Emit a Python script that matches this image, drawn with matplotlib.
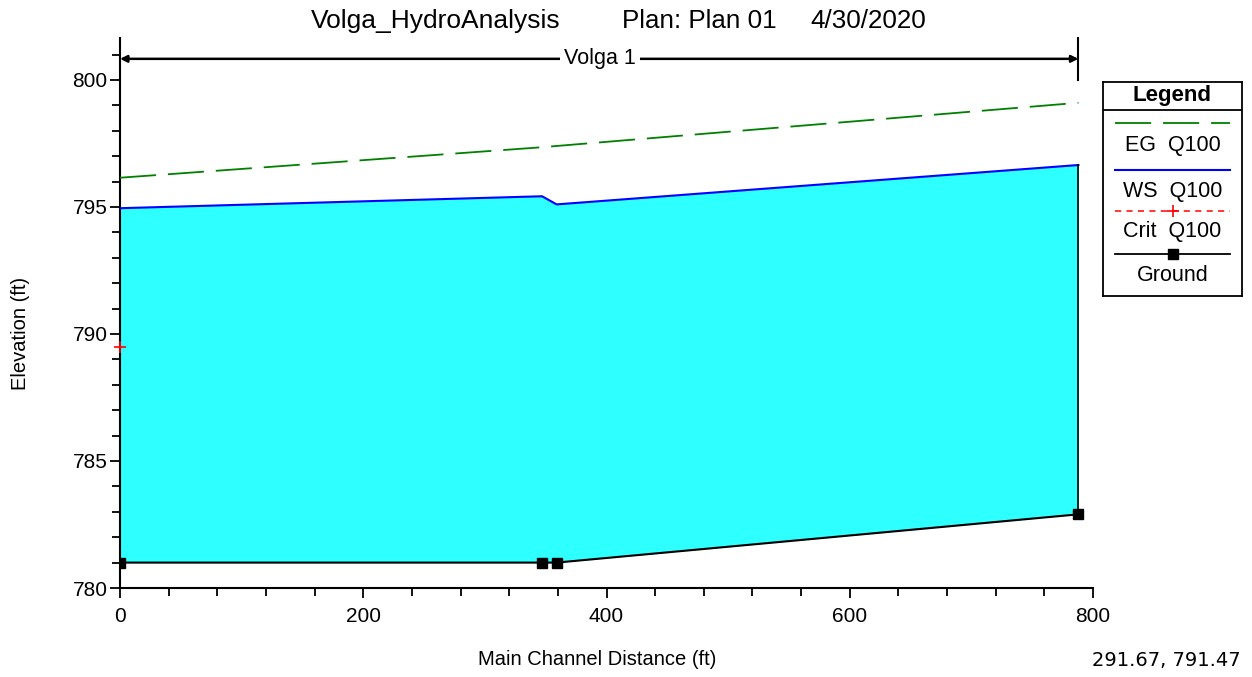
import matplotlib
matplotlib.use("Agg")
import matplotlib.pyplot as plt
from matplotlib.ticker import MultipleLocator

plt.rcParams["font.family"] = ["Liberation Sans", "DejaVu Sans"]

# Profile data (main channel distance in ft, elevation in ft)
station = [0, 347, 359, 788]
ground = [781.0, 781.0, 781.0, 782.9]
ws_q100 = [794.95, 795.42, 795.1, 796.65]
eg_q100 = [796.15, 797.35, 797.4, 799.1]
crit_station = [0]
crit_q100 = [789.5]

reach_name = "Volga 1"
reach_start, reach_end = 0, 788
title_parts = ["Volga_HydroAnalysis", "Plan: Plan 01", "4/30/2020"]
coord_readout = "291.67, 791.47"

W, H = 1252, 677
fig = plt.figure(figsize=(W / 100, H / 100), dpi=100)
ax = fig.add_axes([120 / W, 1 - 588 / H, (1093 - 120) / W, (588 - 38) / H])

ax.fill_between(station, ground, ws_q100, color="#2EFFFF", linewidth=0, zorder=1)
ax.plot(station, eg_q100, color="#008000", linewidth=1.3, dashes=(20, 6.6), zorder=3)
ax.plot(station, ws_q100, color="#0000FF", linewidth=1.5, zorder=3)
ax.plot([station[-1], station[-1]], [ground[-1], ws_q100[-1]], color="black", linewidth=1.2, zorder=3)
ax.plot(station, ground, color="black", linewidth=1.5, marker="s", markersize=7, zorder=4)
ax.plot(crit_station, crit_q100, color="red", linestyle="none", marker="+",
        markersize=8, markeredgewidth=1.2, zorder=5, clip_on=False)

ax.set_xlim(0, 800)
ax.set_ylim(780, 801.65)
ax.spines["top"].set_visible(False)
ax.spines["right"].set_visible(False)
ax.spines["left"].set_linewidth(1.5)
ax.spines["bottom"].set_linewidth(1.5)
ax.xaxis.set_major_locator(MultipleLocator(200))
ax.xaxis.set_minor_locator(MultipleLocator(40))
ax.yaxis.set_minor_locator(MultipleLocator(1))
ax.set_yticks([780, 785, 790, 795, 800])
ax.tick_params(which="major", length=7, width=1.3, labelsize=15)
ax.tick_params(axis="x", which="major", pad=7)
ax.tick_params(axis="y", which="major", pad=2)
ax.tick_params(which="minor", length=5.5, width=1.3)

ax.set_xlabel("Main Channel Distance (ft)", fontsize=14.5)
ax.set_ylabel("Elevation (ft)", fontsize=14.5)
ax.xaxis.set_label_coords(0.49, -0.113)
ax.yaxis.set_label_coords(-0.092, 0.462)

# Reach marker across the top of the plot
reach_y = 800.83
ax.annotate("", xy=(reach_start, reach_y), xytext=(reach_end, reach_y),
            arrowprops=dict(arrowstyle="<|-|>", color="black", lw=1.8,
                            mutation_scale=10, shrinkA=0, shrinkB=0))
ax.plot([reach_end, reach_end], [800.0, 801.65], color="black", linewidth=1.5, clip_on=False)
ax.text((reach_start + reach_end) / 2 + 0.5, reach_y, reach_name, fontsize=15.5,
        ha="center", va="center", bbox=dict(facecolor="white", edgecolor="none", pad=3))

# Title pieces
title_y = 1 - 21 / H
fig.text(311 / W, title_y, title_parts[0], fontsize=19, va="center", ha="left")
fig.text(622 / W, title_y, title_parts[1], fontsize=18.7, va="center", ha="left")
fig.text(810 / W, title_y, title_parts[2], fontsize=18.7, va="center", ha="left")

fig.text(1241 / W, 1 - 661 / H, coord_readout, fontsize=14, va="center", ha="right",
         family="DejaVu Sans")

# Legend box drawn in pixel units
lx0, ly0, lx1, ly1 = 1103, 82, 1242, 296
lg = fig.add_axes([lx0 / W, 1 - ly1 / H, (lx1 - lx0) / W, (ly1 - ly0) / H])
lg.set_xlim(0, lx1 - lx0)
lg.set_ylim(ly1 - ly0, 0)
lg.set_xticks([])
lg.set_yticks([])
for s in lg.spines.values():
    s.set_linewidth(1.3)
cx = (lx1 - lx0) / 2
lg.text(cx, 14, "Legend", fontsize=16, fontweight="bold", ha="center", va="center")
lg.axhline(28, color="black", linewidth=1.3)
xs = [12, 127]
lg.plot(xs, [41, 41], color="#008000", linewidth=1.3, dashes=(20, 6.6))
lg.text(cx, 64, "EG  Q100", fontsize=15.5, ha="center", va="center")
lg.plot(xs, [88, 88], color="#0000FF", linewidth=1.5)
lg.text(cx, 110, "WS  Q100", fontsize=15.5, ha="center", va="center")
lg.plot(xs, [129, 129], color="red", linewidth=1.1, dashes=(4, 3.5))
lg.plot([cx], [129], color="red", marker="+", markersize=9, markeredgewidth=1.2)
lg.text(cx, 150, "Crit  Q100", fontsize=15.5, ha="center", va="center")
lg.plot(xs, [172, 172], color="black", linewidth=1.3)
lg.plot([cx], [172], color="black", marker="s", markersize=7)
lg.text(cx, 194, "Ground", fontsize=15.5, ha="center", va="center")

fig.savefig("out.png", dpi=100)
